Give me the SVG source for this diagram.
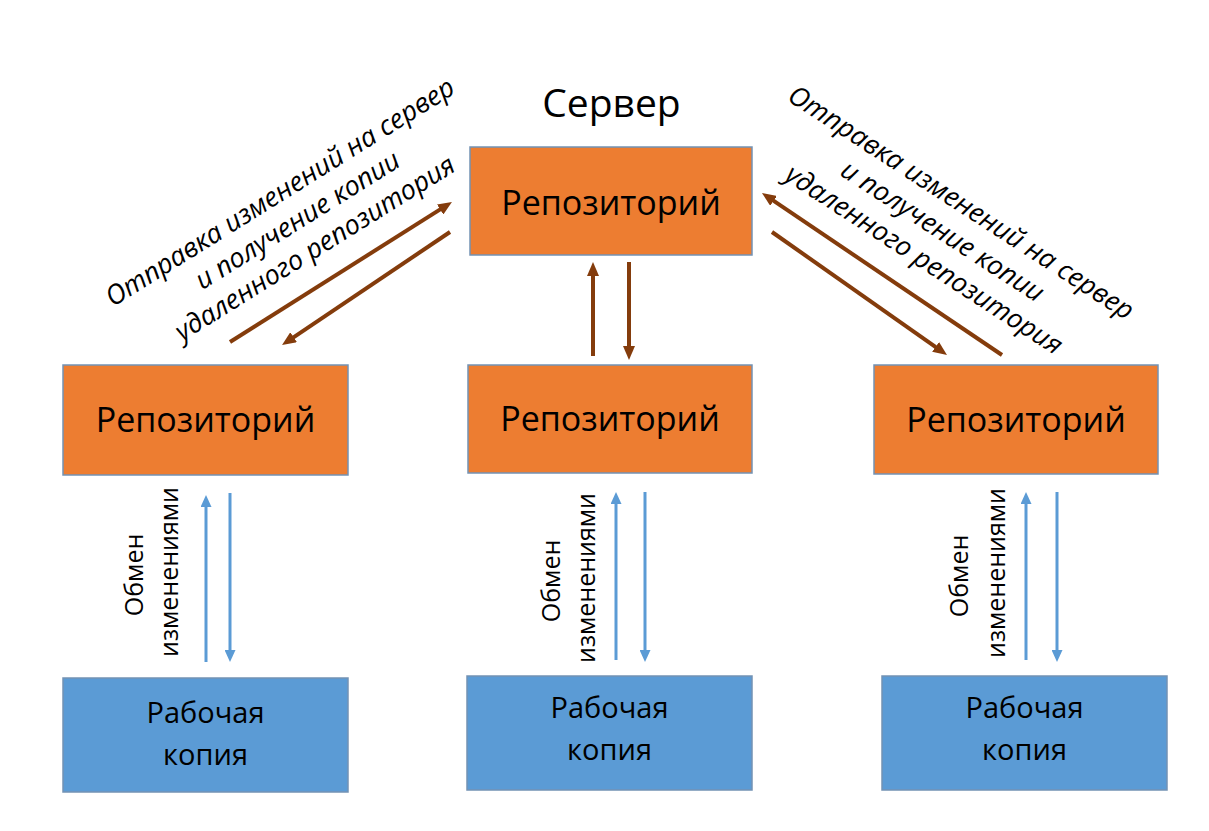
<svg xmlns="http://www.w3.org/2000/svg" width="1209" height="831" viewBox="0 0 1209 831">
<style>
.repo{fill:#ED7D31;stroke:#7392B4;stroke-width:1.5}
.wc{fill:#5B9BD5;stroke:#7392B4;stroke-width:1.5}
.t{font-family:"Open Sans","Liberation Sans",sans-serif;fill:#000;text-anchor:middle}
.rt{font-size:34px}
.wt{font-size:29px}
.vt{font-size:25px}
.dt{font-size:27px;font-style:italic}
.br{stroke:#843C0C;stroke-width:4;fill:none;marker-end:url(#ab)}
.bl{stroke:#5B9BD5;stroke-width:3;fill:none;marker-end:url(#al)}
</style>
<defs>
<marker id="ab" markerUnits="userSpaceOnUse" viewBox="0 0 14 12" markerWidth="14" markerHeight="12" refX="2" refY="6" orient="auto"><path d="M0,0 L14,6 L0,12 z" fill="#843C0C"/></marker>
<marker id="al" markerUnits="userSpaceOnUse" viewBox="0 0 12 11" markerWidth="12" markerHeight="11" refX="2" refY="5.5" orient="auto"><path d="M0,0 L12,5.5 L0,11 z" fill="#5B9BD5"/></marker>
</defs>
<rect width="1209" height="831" fill="#fff"/>
<text id="title" class="t" x="611.5" y="117" font-size="39">Сервер</text>
<g id="server-repo"><rect class="repo" x="470" y="147" width="282" height="108"/><text class="t rt" x="611" y="215">Репозиторий</text></g>
<g id="repo-left"><rect class="repo" x="63" y="365" width="285" height="110"/><text class="t rt" x="205.5" y="432">Репозиторий</text></g>
<g id="repo-mid"><rect class="repo" x="468" y="365" width="284" height="108"/><text class="t rt" x="610" y="431">Репозиторий</text></g>
<g id="repo-right"><rect class="repo" x="874" y="365" width="284" height="109"/><text class="t rt" x="1016" y="432">Репозиторий</text></g>
<g id="wc-left"><rect class="wc" x="63" y="678" width="285" height="114"/><text class="t wt" x="205.5" y="723">Рабочая</text><text class="t wt" x="205.5" y="765">копия</text></g>
<g id="wc-mid"><rect class="wc" x="467" y="676" width="285" height="114"/><text class="t wt" x="609.5" y="718">Рабочая</text><text class="t wt" x="609.5" y="760">копия</text></g>
<g id="wc-right"><rect class="wc" x="882" y="676" width="285" height="114"/><text class="t wt" x="1024.5" y="718">Рабочая</text><text class="t wt" x="1024.5" y="760">копия</text></g>
<g id="connectors">
<line class="br" x1="593" y1="356" x2="593" y2="274"/>
<line class="br" x1="629" y1="262" x2="629" y2="348"/>
<line class="br" x1="230" y1="342" x2="441.8" y2="208.4"/>
<line class="br" x1="450" y1="232" x2="292" y2="338.3"/>
<line class="br" x1="1002" y1="355" x2="771.9" y2="199.7"/>
<line class="br" x1="772" y1="232" x2="937.2" y2="348.1"/>
<line class="bl" x1="206" y1="662" x2="206" y2="505"/>
<line class="bl" x1="230" y1="493" x2="230" y2="652"/>
<line class="bl" x1="616" y1="660" x2="616" y2="502"/>
<line class="bl" x1="645" y1="492" x2="645" y2="652"/>
<line class="bl" x1="1026" y1="660" x2="1026" y2="502"/>
<line class="bl" x1="1057" y1="492" x2="1057" y2="652"/>
</g>
<g id="labels">
<text class="t vt" transform="translate(143,575) rotate(-90)">Обмен</text>
<text class="t vt" transform="translate(178,572) rotate(-90)">изменениями</text>
<text class="t vt" transform="translate(560,581) rotate(-90)">Обмен</text>
<text class="t vt" transform="translate(595,578) rotate(-90)">изменениями</text>
<text class="t vt" transform="translate(968,576) rotate(-90)">Обмен</text>
<text class="t vt" transform="translate(1005,573) rotate(-90)">изменениями</text>
<text class="t dt" transform="translate(298,221) rotate(-32)"><tspan x="0" y="-25">Отправка изменений на сервер</tspan><tspan x="0" y="8">и получение копии</tspan><tspan x="0" y="41">удаленного репозитория</tspan></text>
<text class="t dt" transform="translate(942,232) rotate(33)"><tspan x="0" y="-26">Отправка изменений на сервер</tspan><tspan x="0" y="8">и получение копии</tspan><tspan x="0" y="42">удаленного репозитория</tspan></text>
</g>
</svg>
